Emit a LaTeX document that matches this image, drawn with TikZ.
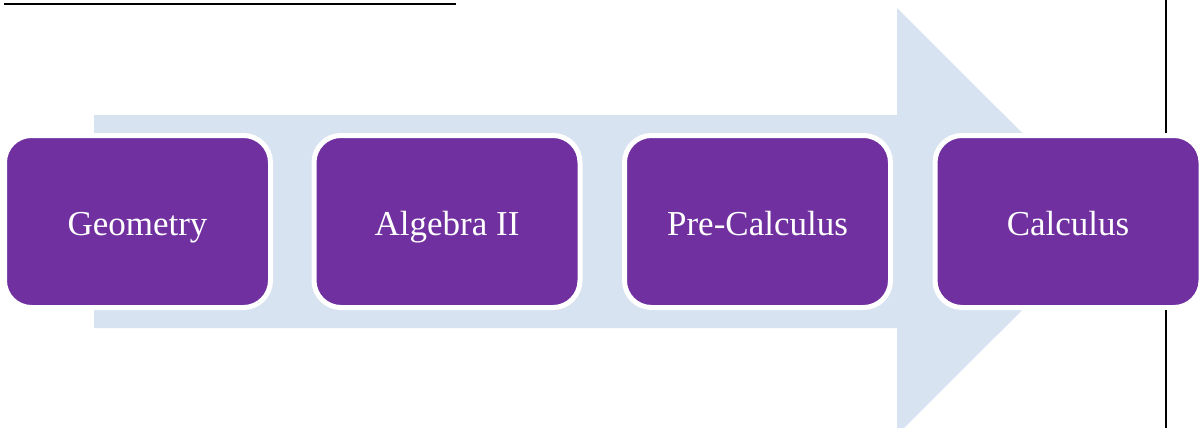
\documentclass[tikz,border=0pt]{standalone}
\usepackage{fontspec}
\setmainfont{Liberation Serif}
\definecolor{boxpurple}{HTML}{7030A0}
\definecolor{arrowblue}{HTML}{D7E3F1}
\begin{document}
\begin{tikzpicture}[x=1pt,y=-1pt,
  course/.style={draw=white,line width=5pt,fill=boxpurple,rounded corners=27pt,
    minimum width=266pt,minimum height=172pt,inner sep=0pt,text=white,
    text height=31pt,text depth=4pt,
    font=\fontsize{35}{42}\selectfont},
  rule/.style={line width=2.2pt,black}]
\useasboundingbox (0,0) rectangle (1199,428);
% big arrow
\fill[arrowblue] (94,115) -- (897,115) -- (897,8) -- (1111,221.5) -- (897,435) -- (897,328) -- (94,328) -- cycle;
% boxes
\node[course] (geo) at (137.5,221.5) {Geometry};
\node[course] (alg) at (447,221.5) {Algebra II};
\node[course] (pre) at (757.5,221.5) {Pre-Calculus};
\node[course] (calc) at (1068,221.5) {Calculus};
% title underline (cropped)
\coordinate (ul1) at (4,4);
\coordinate (ul2) at (456,4);
\draw[line width=1.3pt] (ul1) -- (ul2);
% right rule
\coordinate (r1) at (1166,0);
\coordinate (r2) at (1166,133);
\coordinate (r3) at (1166,310);
\coordinate (r4) at (1166,428);
\draw[rule] (r1) -- (r2);
\draw[rule] (r3) -- (r4);
\end{tikzpicture}
\end{document}
